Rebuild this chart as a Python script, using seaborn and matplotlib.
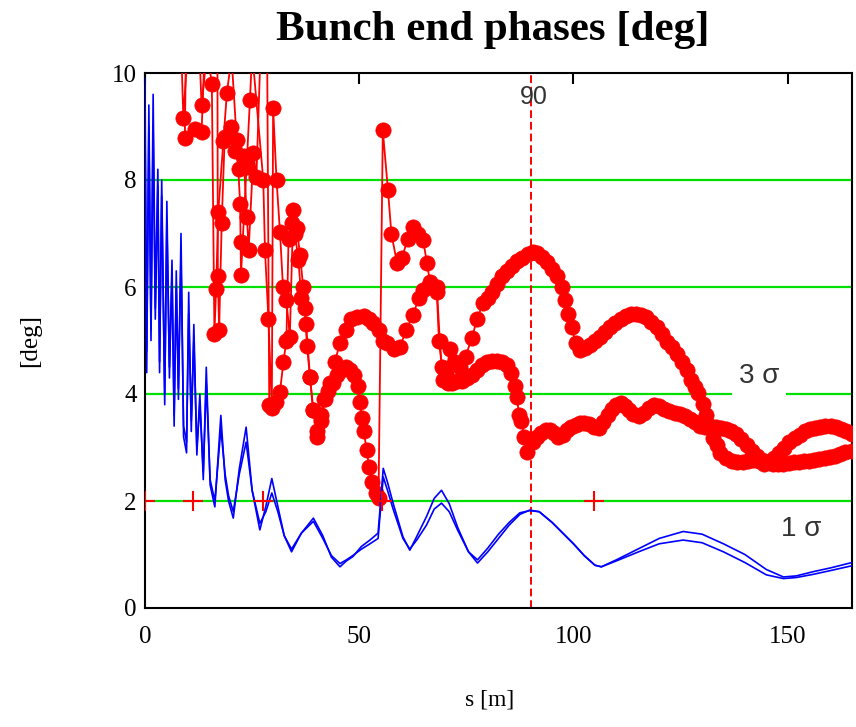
import matplotlib
matplotlib.use("Agg")
import matplotlib.pyplot as plt
import seaborn as sns

# ---- 1-sigma phase envelopes (two nearly identical traces) ----
blue_s = [0, 0.4, 0.9, 1.4, 1.9, 2.4, 3.0, 3.4, 3.9, 4.6, 5.1, 5.7, 6.3, 6.8, 7.3, 7.8,
          8.4, 9.0, 9.7, 10.2, 10.8, 11.4, 12.1, 12.8, 13.6, 14.3, 15.2, 16.3, 17.7, 18.7,
          19.5, 20.6, 22.0, 23.6, 25.0, 26.8, 28.2, 29.6, 31.0, 32.5, 34.2, 36.5, 39.3,
          41.5, 43.5, 45.5, 47.0, 48.5, 50.5, 52.5, 54.4, 55.6, 56.6, 57.9, 60.2, 61.8,
          63.5, 65.7, 67.5, 69.2, 71.0, 73.0, 75.5, 77.6, 80.0, 82.5, 85.0, 87.5, 89.8,
          92.0, 95.0, 97.5, 100.0, 102.5, 105.0, 106.5, 110.0, 115.5, 120.0, 125.6, 130.0,
          135.0, 140.0, 145.0, 149.0, 152.0, 156.0, 160.0, 165.0]
sigma1_a = [9.9, 4.4, 9.4, 5.2, 9.6, 5.6, 8.2, 4.4, 8.0, 3.8, 7.6, 4.3, 6.5, 3.4, 6.3, 3.9,
            7.0, 3.2, 2.9, 5.9, 3.3, 5.3, 2.86, 4.0, 2.4, 4.5, 2.3, 1.89, 3.6, 2.4,
            2.0, 1.68, 2.6, 3.38, 2.2, 1.46, 1.9, 2.42, 1.9, 1.35, 1.05, 1.4, 1.68,
            1.35, 0.95, 0.77, 0.88, 0.96, 1.15, 1.27, 1.4, 2.61, 2.35, 1.96, 1.33, 1.08,
            1.35, 1.71, 2.05, 2.2, 1.95, 1.5, 1.05, 0.84, 1.05, 1.3, 1.55, 1.75, 1.83,
            1.8, 1.6, 1.4, 1.2, 0.98, 0.8, 0.77, 0.9, 1.12, 1.3, 1.43, 1.38,
            1.2, 1.0, 0.72, 0.58, 0.6, 0.68, 0.75, 0.85]
sigma1_b = [9.0, 4.8, 9.0, 5.0, 9.0, 5.4, 7.9, 4.6, 7.7, 4.0, 7.2, 4.5, 6.2, 3.6, 6.0, 4.1,
            6.6, 3.4, 3.1, 5.5, 3.5, 5.0, 3.0, 3.8, 2.55, 4.2, 2.4, 2.0, 3.35, 2.5,
            2.1, 1.8, 2.5, 3.1, 2.2, 1.58, 1.8, 2.15, 1.8, 1.35, 1.1, 1.4, 1.62,
            1.3, 0.98, 0.83, 0.9, 0.98, 1.1, 1.2, 1.3, 2.45, 2.2, 1.85, 1.3, 1.1,
            1.28, 1.55, 1.85, 1.96, 1.8, 1.45, 1.05, 0.9, 1.12, 1.38, 1.6, 1.78, 1.82,
            1.8, 1.6, 1.4, 1.2, 0.98, 0.8, 0.77, 0.88, 1.06, 1.2, 1.27, 1.22,
            1.05, 0.85, 0.62, 0.55, 0.57, 0.63, 0.7, 0.79]

# ---- 3-sigma phase envelopes ----
sigma3_a_s = [8.4, 8.95, 10.0, 12.6, 13.2, 14.5, 15.6, 16.2, 16.6, 17.1, 18.3, 19.1, 20.2,
              21.4, 22.2, 22.3, 22.4, 23.7, 24.5, 25.0, 27.6, 28.0, 28.8, 29.6, 29.9, 30.7,
              31.5, 32.2, 33.0, 33.8, 34.6, 35.4, 36.2, 36.9, 37.6, 38.5, 39.2, 40.1, 41.0,
              41.8, 42.8, 43.8, 44.8, 45.8, 46.8, 47.8, 48.8, 49.6, 50.2, 50.6, 51.1, 51.7,
              52.3, 53.0, 53.8, 54.5, 55.5, 56.7, 57.5, 58.8, 60.0, 61.3, 62.5, 63.7, 64.9,
              65.8, 66.5, 67.5, 68.1, 68.6, 69.3, 70.3, 71.2, 72.3, 73.5, 74.8, 76.3, 77.5,
              78.9, 80.0, 81.0, 82.2, 83.3, 84.5, 85.7, 86.8, 88.0, 89.3, 90.5, 91.6, 92.7,
              93.8, 95.0, 96.2, 97.3, 98.0, 98.7, 99.6, 100.5, 101.5, 102.7, 103.9, 105.0,
              106.2, 107.4, 108.6, 109.8, 111.0, 112.2, 113.4, 114.6, 115.8, 117.0, 118.2,
              119.4, 120.6, 121.8, 123.0, 124.2, 125.4, 126.6, 127.5, 128.3, 129.1, 130.2,
              131.0, 131.8, 132.6, 133.4, 134.2, 135.5, 136.9, 138.2, 139.5, 140.8, 142.0,
              143.2, 144.4, 145.6, 146.8, 148.0, 149.2, 150.4, 151.6, 152.8, 154.0, 155.2,
              156.4, 157.6, 158.8, 160.0, 161.2, 162.4, 163.6, 165.0]
sigma3_a = [10.6, 9.15, 10.5, 10.6, 9.4, 10.4, 9.8, 5.13, 5.97, 7.41, 8.72, 9.62, 10.3,
            8.75, 7.56, 6.85, 6.22, 8.25, 9.5, 10.4, 8.0, 6.69, 5.41, 3.74, 9.34, 8.0,
            7.03, 6.0, 5.75, 5.07, 7.44, 7.1, 6.6, 6.0, 5.3, 4.32, 3.7, 3.3, 3.6,
            3.9, 4.05, 4.2, 4.35, 4.45, 4.5, 4.45, 4.35, 4.15, 3.85, 3.55, 3.3, 2.95,
            2.64, 2.35, 2.15, 2.05, 8.93, 7.81, 7.0, 6.45, 6.55, 6.9, 7.12, 7.0, 6.88,
            6.45, 6.1, 6.0, 5.9, 5.0, 4.5, 4.4, 4.85, 4.6, 4.5, 4.7, 5.05, 5.4,
            5.7, 5.8, 5.9, 6.05, 6.2, 6.3, 6.4, 6.48, 6.55, 6.62, 6.66, 6.63, 6.56,
            6.46, 6.34, 6.2, 6.0, 5.75, 5.5, 5.25, 4.95, 4.82, 4.86, 4.92, 4.99,
            5.07, 5.16, 5.25, 5.33, 5.4, 5.45, 5.49, 5.5, 5.48, 5.43, 5.35,
            5.25, 5.12, 4.98, 4.88, 4.74, 4.6, 4.45, 4.27, 4.13, 4.02, 3.82,
            3.6, 3.4, 3.18, 3.05, 2.9, 2.8, 2.74, 2.72, 2.72, 2.74, 2.76,
            2.74, 2.7, 2.72, 2.8, 2.9, 3.0, 3.1, 3.18, 3.24, 3.3, 3.34,
            3.37, 3.39, 3.4, 3.4, 3.38, 3.34, 3.3, 3.26]

sigma3_b_s = [9.6, 9.3, 11.6, 13.2, 14.0, 16.9, 17.0, 17.3, 17.9, 18.6, 20.0, 21.0, 22.0,
              23.0, 23.8, 24.2, 25.3, 26.0, 27.0, 28.5, 29.0, 30.5, 31.5, 32.3, 33.0, 33.5,
              34.2, 35.0, 35.8, 36.5, 37.3, 37.8, 38.5, 39.3, 40.1, 41.0, 42.0, 43.2, 44.3,
              45.5, 46.8, 48.0, 49.5, 51.0, 52.2, 53.2, 54.5, 55.5, 56.5, 58.0, 59.5, 61.0,
              62.5, 64.0, 64.9, 66.0, 67.2, 68.1, 68.8, 69.5, 70.6, 71.7, 72.9, 74.0, 75.2,
              76.4, 77.5, 78.7, 79.9, 81.0, 82.2, 83.3, 84.5, 85.5, 86.3, 86.8, 87.3, 87.8,
              88.5, 89.1, 90.5, 91.5, 92.5, 93.5, 94.5, 95.5, 96.5, 97.5, 98.5, 99.5, 100.5,
              101.5, 102.5, 103.7, 104.8, 106.0, 107.0, 108.0, 109.0, 110.0, 111.0, 112.0,
              113.0, 114.0, 115.2, 116.4, 117.6, 118.8, 120.0, 121.2, 122.4, 123.6, 124.8,
              126.0, 127.2, 128.4, 129.6, 130.8, 132.0, 133.2, 134.4, 135.6, 136.8, 138.0,
              139.2, 140.4, 141.6, 142.8, 144.0, 145.2, 146.5, 147.8, 149.0, 150.2, 151.4,
              152.6, 153.8, 155.0, 156.2, 157.4, 158.6, 159.8, 161.0, 162.2, 163.4, 165.0]
sigma3_b = [10.8, 8.78, 8.95, 8.9, 10.6, 10.5, 6.2, 5.2, 7.2, 8.8, 9.0, 8.55, 8.2,
            8.45, 7.3, 6.7, 8.5, 8.05, 10.5, 10.5, 3.8, 3.85, 4.04, 4.6, 5.0, 6.9,
            7.2, 7.0, 6.5, 5.8, 5.6, 4.9, 4.32, 3.7, 3.2, 3.5, 3.9, 4.2, 4.6,
            4.95, 5.2, 5.4, 5.44, 5.45, 5.4, 5.33, 5.2, 5.0, 4.95, 4.85, 4.88, 5.2,
            5.48, 5.8, 5.94, 6.0, 6.0, 6.0, 5.0, 4.26, 4.2, 4.2, 4.25, 4.25, 4.3,
            4.35, 4.45, 4.55, 4.6, 4.62, 4.62, 4.6, 4.55, 4.4, 4.15, 3.94, 3.6, 3.5,
            3.2, 2.92, 3.1, 3.2, 3.28, 3.32, 3.32, 3.27, 3.2, 3.23, 3.32, 3.38, 3.42,
            3.46, 3.46, 3.44, 3.38, 3.36, 3.47, 3.6, 3.72, 3.8, 3.83, 3.78,
            3.7, 3.63, 3.58, 3.65, 3.74, 3.79, 3.77, 3.72, 3.68, 3.65, 3.62,
            3.58, 3.53, 3.47, 3.41, 3.38, 3.38, 3.38, 3.36, 3.34, 3.31, 3.26,
            3.16, 3.04, 2.94, 2.85, 2.77, 2.72, 2.7, 2.7, 2.7, 2.71, 2.72,
            2.73, 2.74, 2.75, 2.76, 2.78, 2.8, 2.82, 2.85, 2.88, 2.91, 2.94]

# ---- reference marks on the 2 deg level ----
mark_s = [0, 11.3, 27.5, 55.3, 104.8]
mark_v = [2, 2, 2, 2, 2]

grid_levels = [2, 4, 6, 8]
y_ticks = [0, 2, 4, 6, 8, 10]
x_ticks = [0, 50, 100, 150]
s_marker = 90

sns.set_theme(style="white")
plt.rcParams["font.family"] = ["Liberation Serif", "DejaVu Serif"]
plt.rcParams["text.color"] = "black"
plt.rcParams["xtick.color"] = "black"
plt.rcParams["ytick.color"] = "black"

W, H = 856, 727
fig = plt.figure(figsize=(W / 100, H / 100), dpi=100)
ax = fig.add_axes([145 / W, 1 - 608 / H, (852 - 145) / W, (608 - 73) / H])

for lvl in grid_levels:
    ax.axhline(lvl, color="#00e000", lw=1.6, zorder=1)

ax.axvline(s_marker, color="red", lw=1.4, ls=(0, (4, 2)), zorder=2)

for ys in (sigma1_a, sigma1_b):
    sns.lineplot(x=blue_s, y=ys, ax=ax, sort=False, estimator=None,
                 color="#0000ff", lw=1.2, zorder=4)

for xs, ys in ((sigma3_a_s, sigma3_a), (sigma3_b_s, sigma3_b)):
    sns.lineplot(x=xs, y=ys, ax=ax, sort=False, estimator=None, color="red",
                 lw=1.3, marker="o", markersize=11, markeredgecolor="red",
                 markeredgewidth=0.5, zorder=3)

sns.scatterplot(x=mark_s, y=mark_v, ax=ax, marker="+", s=220, color="red",
                linewidth=1.5, zorder=5)

ax.set_xlim(0, 165)
ax.set_ylim(0, 10)
ax.set_xticks(x_ticks)
ax.set_yticks(y_ticks)
ax.set_xticklabels([str(v) for v in x_ticks], fontsize=18, color="black")
ax.set_yticklabels([str(v) for v in y_ticks], fontsize=18, color="black")
ax.tick_params(axis="x", direction="in", top=True, length=8, width=1.5,
               color="black", pad=13)
ax.tick_params(axis="y", length=0, pad=6)
for sp in ax.spines.values():
    sp.set_color("black")
    sp.set_linewidth(1.5)
ax.set_xlabel("")
ax.set_ylabel("")

sans = ["Liberation Sans", "DejaVu Sans"]
ax.text(90.8, 9.55, "90", ha="center", va="center", fontsize=18,
        color="#333333", family=sans, zorder=6)
ax.text(143.3, 4.34, "3 σ", ha="center", va="center", fontsize=20,
        color="#333333", family=sans, zorder=6,
        bbox=dict(facecolor="white", edgecolor="none", pad=5))
ax.text(153.1, 1.48, "1 σ", ha="center", va="center", fontsize=20,
        color="#333333", family=sans, zorder=6)

fig.text(493 / W, 1 - 30 / H, "Bunch end phases [deg]", ha="center",
         va="center", fontsize=31, fontweight="bold", color="black")
fig.text(490 / W, 1 - 700 / H, "s [m]", ha="center", va="center", fontsize=17,
         color="black")
fig.text(30 / W, 1 - 340 / H, "[deg]", ha="center", va="center", fontsize=18,
         rotation=90, color="black")

fig.savefig("out.png", dpi=100)
